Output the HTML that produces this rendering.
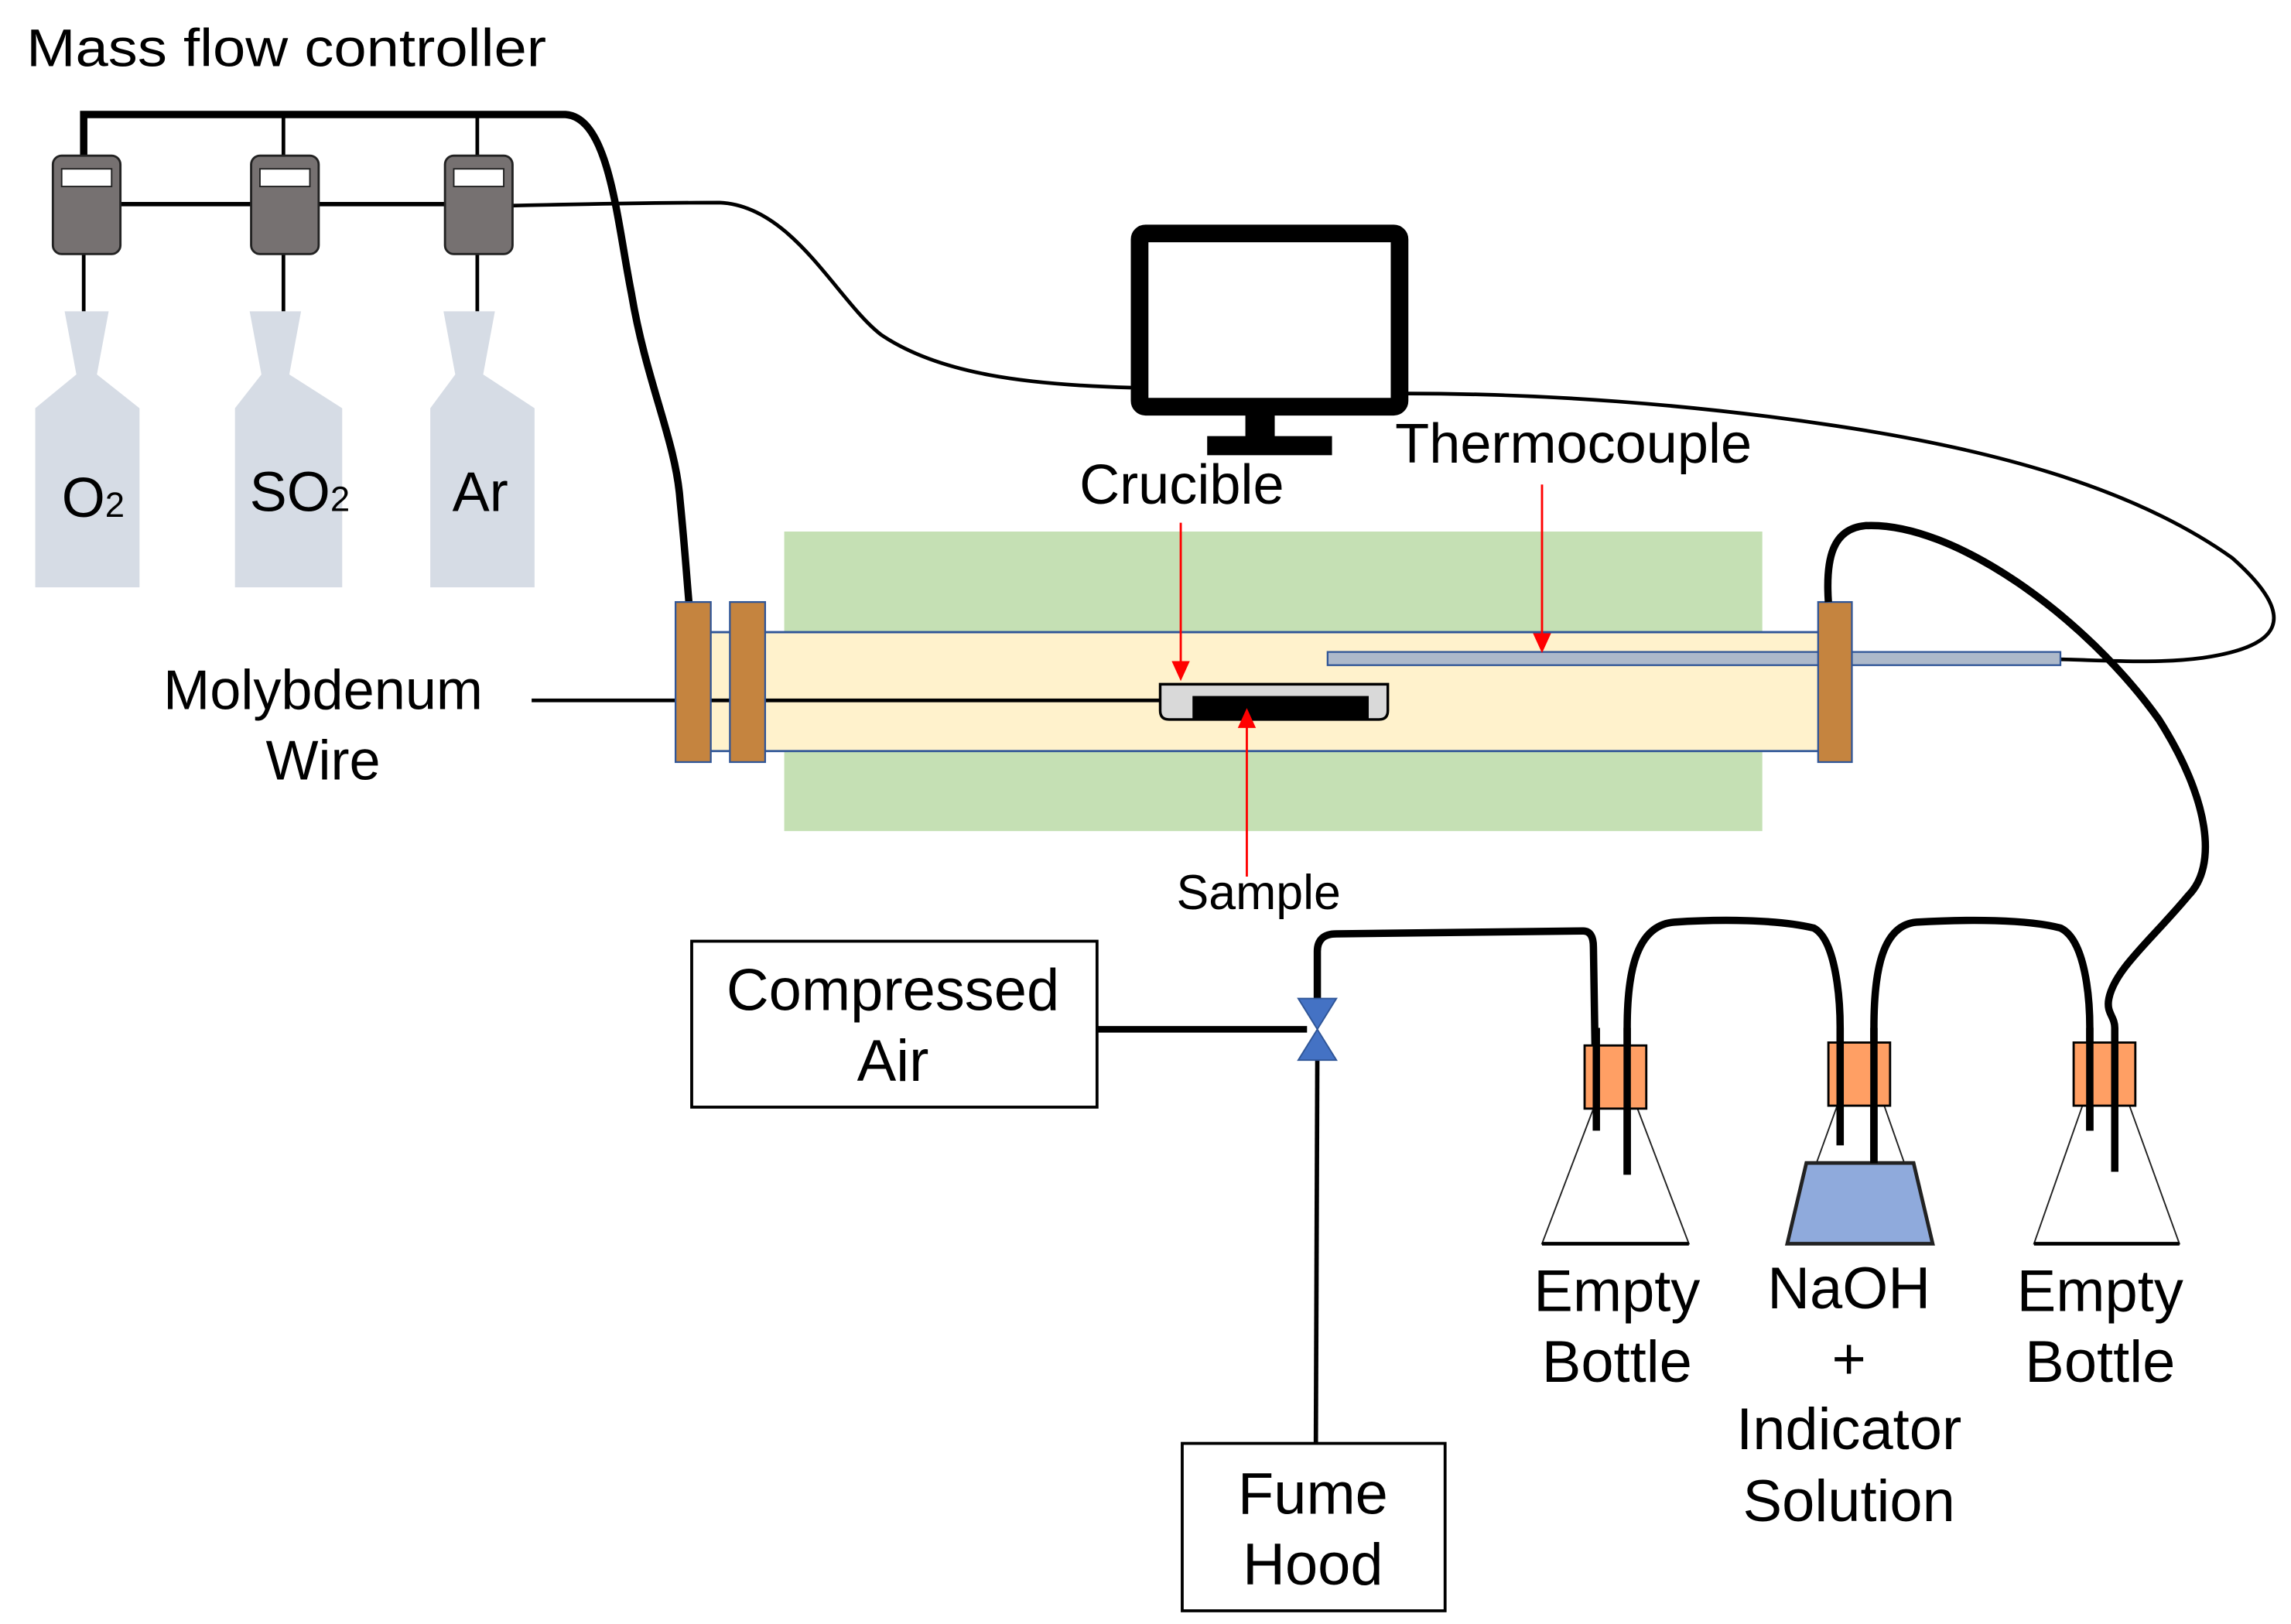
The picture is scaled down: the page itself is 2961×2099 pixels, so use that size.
<!DOCTYPE html>
<html><head><meta charset="utf-8"><style>
html,body{margin:0;padding:0;background:#fff;}
svg{display:block;}
text{font-family:"Liberation Sans",Arial,sans-serif;fill:#000;}
</style></head><body>
<svg width="2961" height="2099" viewBox="0 0 1560 1106" preserveAspectRatio="none" xmlns="http://www.w3.org/2000/svg">
<rect x="0" y="0" width="1560" height="1106" fill="#fff"/>
<text x="18" y="45" font-size="36" textLength="354" lengthAdjust="spacingAndGlyphs">Mass flow controller</text>

<path d="M57,106 V78 H385 C415,80 420,150 430,200 C440,260 460,300 463,340 C467,380 468,400 470,420" fill="none" stroke="#000" stroke-width="5"/>
<path d="M193,78 V106 M325,78 V106" stroke="#000" stroke-width="2.5"/>
<path d="M57,173 V212 M193,173 V212 M325,173 V212" stroke="#000" stroke-width="2.5"/>
<path d="M82,139 H171 M217,139 H303" stroke="#000" stroke-width="3"/>
<path d="M349,140 C400,139 440,138 490,138 C540,140 570,205 600,228 C640,255 700,262 770,264" fill="none" stroke="#000" stroke-width="2.5"/>

<g fill="#767171" stroke="#222" stroke-width="1.5">
<rect x="36" y="106" width="46" height="67" rx="6"/>
<rect x="171" y="106" width="46" height="67" rx="6"/>
<rect x="303" y="106" width="46" height="67" rx="6"/>
</g>
<g fill="#fff" stroke="#222" stroke-width="1">
<rect x="42" y="115" width="34" height="12"/>
<rect x="177" y="115" width="34" height="12"/>
<rect x="309" y="115" width="34" height="12"/>
</g>

<g fill="#d6dce5">
<path d="M44,212 H74 L66,255 L95,278 V400 H24 V278 L52,255 Z"/>
<path d="M170,212 H205 L197,255 L233,278 V400 H160 V278 L178,255 Z"/>
<path d="M302,212 H337 L329,255 L364,278 V400 H293 V278 L310,255 Z"/>
</g>
<text x="42" y="352" font-size="38">O<tspan font-size="24">2</tspan></text>
<text x="170" y="348" font-size="38">SO<tspan font-size="24">2</tspan></text>
<text x="308" y="348" font-size="38">Ar</text>

<rect x="776" y="159" width="177" height="118" rx="4" fill="#fff" stroke="#000" stroke-width="12"/>
<rect x="848" y="282" width="20" height="17" fill="#000"/>
<rect x="822" y="297" width="85" height="13" fill="#000"/>

<path d="M958,268 C1050,268 1150,275 1250,290 C1350,305 1450,330 1520,380 C1565,420 1555,440 1500,448 C1470,452 1440,450 1403,449" fill="none" stroke="#000" stroke-width="2.5"/>

<rect x="534" y="362" width="666" height="204" fill="#c5e0b4"/>
<rect x="484" y="430" width="756" height="82" fill="#fff2cc"/>
<path d="M484,430.5 H1240 M484,511.5 H1240" stroke="#2f5597" stroke-width="1.5"/>
<rect x="904" y="444" width="499" height="9" fill="#adb9ca" stroke="#2f5597" stroke-width="1.2"/>
<line x1="362" y1="477" x2="792" y2="477" stroke="#000" stroke-width="2.5"/>
<path d="M790,466 H945 V484 Q945,490 939,490 H796 Q790,490 790,484 Z" fill="#d9d9d9" stroke="#000" stroke-width="1.8"/>
<rect x="812" y="474" width="120" height="16" fill="#000"/>
<g fill="#c5843f" stroke="#2f5597" stroke-width="1.2">
<rect x="460" y="410" width="24" height="109"/>
<rect x="497" y="410" width="24" height="109"/>
<rect x="1238" y="410" width="23" height="109"/>
</g>

<g stroke="#ff0000" stroke-width="1.5" fill="#ff0000">
<line x1="804" y1="356" x2="804" y2="452"/>
<path d="M799,451 L809,451 L804,462 Z"/>
<line x1="1050" y1="330" x2="1050" y2="433"/>
<path d="M1045,432 L1055,432 L1050,443 Z"/>
<line x1="849" y1="597" x2="849" y2="494"/>
<path d="M844,495 L854,495 L849,484 Z"/>
</g>
<text x="735" y="343" font-size="38">Crucible</text>
<text x="950" y="315" font-size="38">Thermocouple</text>
<text x="220" y="483" font-size="38" text-anchor="middle">Molybdenum</text>
<text x="220" y="531" font-size="38" text-anchor="middle">Wire</text>
<text x="857" y="619" font-size="33" text-anchor="middle">Sample</text>

<path d="M1245,410 C1243,380 1248,360 1270,358 C1330,355 1420,420 1470,490 C1505,545 1510,590 1490,610 C1465,640 1440,660 1436,680 C1434,690 1440,692 1440,700 V770" fill="none" stroke="#000" stroke-width="5"/>

<rect x="471" y="641" width="276" height="113" fill="#fff" stroke="#000" stroke-width="2"/>
<text x="608" y="688" font-size="40" text-anchor="middle">Compressed</text>
<text x="608" y="736" font-size="40" text-anchor="middle">Air</text>
<line x1="747" y1="701" x2="890" y2="701" stroke="#000" stroke-width="4.5"/>
<path d="M897,680 V648 Q897,636 910,636 L1078,634 Q1085,634 1085,645 L1087,770" fill="none" stroke="#000" stroke-width="5"/>
<line x1="897" y1="720" x2="896" y2="983" stroke="#000" stroke-width="3"/>
<path d="M884,680 H910 L897,701 Z M884,722 H910 L897,701 Z" fill="#4472c4" stroke="#2f5597" stroke-width="1"/>
<rect x="805" y="983" width="179" height="114" fill="#fff" stroke="#000" stroke-width="2"/>
<text x="894" y="1031" font-size="40" text-anchor="middle">Fume</text>
<text x="894" y="1079" font-size="40" text-anchor="middle">Hood</text>

<g fill="#fff" stroke="#222" stroke-width="1">
<path d="M1085,755 L1050,847 H1150 L1115,755"/>
<path d="M1251,753 L1217,847 H1316 L1283,753"/>
<path d="M1418,753 L1385,847 H1484 L1450,753"/>
</g>
<path d="M1050,847 H1150 M1385,847 H1484" stroke="#000" stroke-width="2.5"/>
<path d="M1230,792 H1303 L1316,847 H1217 Z" fill="#8faadc" stroke="#222" stroke-width="2.5"/>

<path d="M1108,800 V700 C1108,660 1115,630 1140,628 C1170,626 1210,626 1235,632 C1250,640 1253,680 1253,700 V780" fill="none" stroke="#000" stroke-width="5"/>
<path d="M1276,792 V700 C1276,660 1282,630 1305,628 C1340,626 1380,626 1403,632 C1420,640 1423,680 1423,700 V770" fill="none" stroke="#000" stroke-width="5"/>

<g fill="#ff9f64" stroke="#000" stroke-width="1.5">
<rect x="1079" y="712" width="42" height="43"/>
<rect x="1245" y="710" width="42" height="43"/>
<rect x="1412" y="710" width="42" height="43"/>
</g>
<path d="M1087,700 V770 M1108,700 V800 M1253,700 V780 M1276,700 V792 M1423,700 V770 M1440,700 V798" stroke="#000" stroke-width="5"/>

<text x="1101" y="893" font-size="40" text-anchor="middle">Empty</text>
<text x="1101" y="941" font-size="40" text-anchor="middle">Bottle</text>
<text x="1259" y="891" font-size="40" text-anchor="middle">NaOH</text>
<text x="1259" y="939" font-size="40" text-anchor="middle">+</text>
<text x="1259" y="987" font-size="40" text-anchor="middle">Indicator</text>
<text x="1259" y="1036" font-size="40" text-anchor="middle">Solution</text>
<text x="1430" y="893" font-size="40" text-anchor="middle">Empty</text>
<text x="1430" y="941" font-size="40" text-anchor="middle">Bottle</text>
</svg>
</body></html>
